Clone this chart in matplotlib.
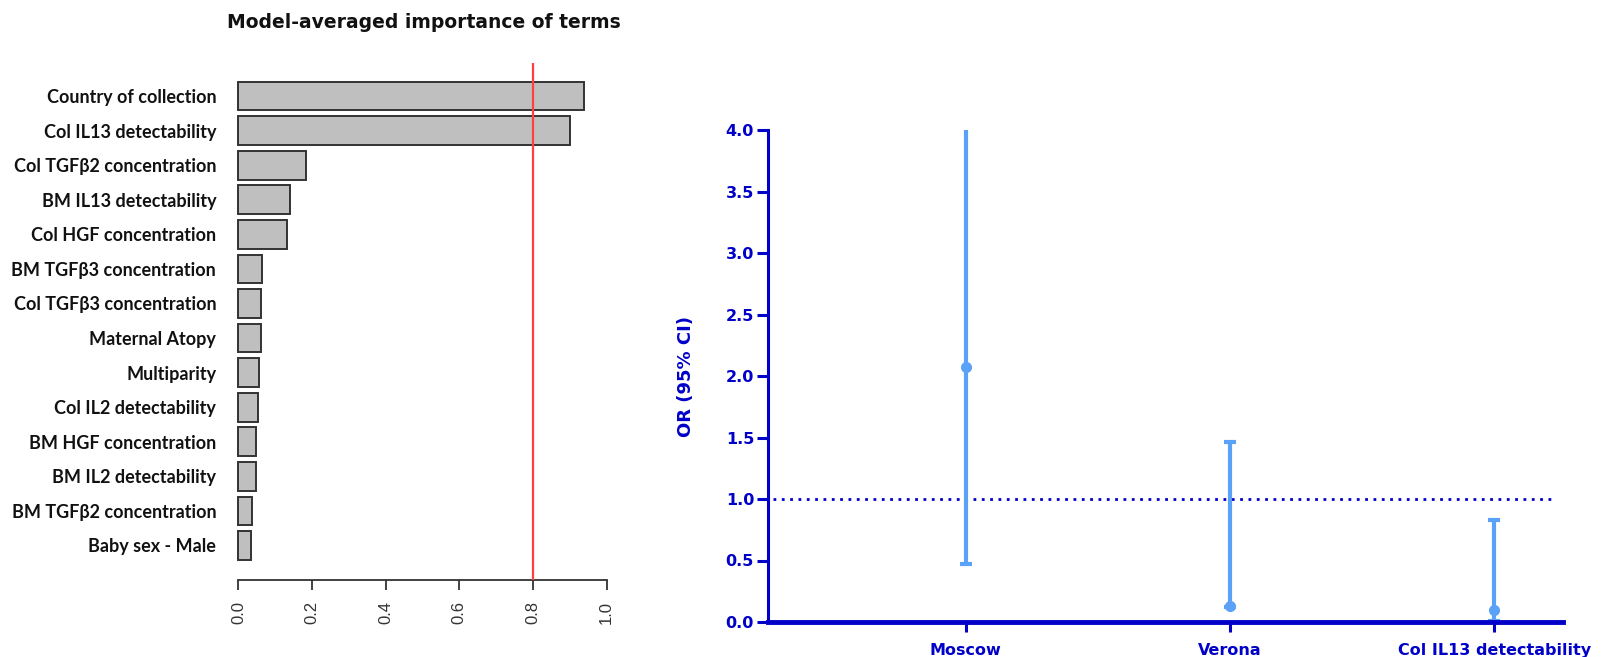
import matplotlib
matplotlib.use("Agg")
import matplotlib.pyplot as plt
import numpy as np

# Левая панель: важность термов (усреднение по моделям)
terms = [
    'Country of collection',
    'Col IL13 detectability',
    'Col TGFβ2 concentration',
    'BM IL13 detectability',
    'Col HGF concentration',
    'BM TGFβ3 concentration',
    'Col TGFβ3 concentration',
    'Maternal Atopy',
    'Multiparity',
    'Col IL2 detectability',
    'BM HGF concentration',
    'BM IL2 detectability',
    'BM TGFβ2 concentration',
    'Baby sex - Male',
]
importance = [0.939, 0.901, 0.183, 0.140, 0.131, 0.065, 0.061,
              0.061, 0.056, 0.052, 0.048, 0.048, 0.038, 0.035]
threshold = 0.8
imp_ticks = [0.0, 0.2, 0.4, 0.6, 0.8, 1.0]

# Правая панель: OR (95% CI)
groups = ['Moscow', 'Verona', 'Col IL13 detectability']
or_point = [2.07, 0.13, 0.10]
or_low = [0.47, 0.12, 0.01]
or_high = [4.0, 1.46, 0.83]
or_ticks = [0.0, 0.5, 1.0, 1.5, 2.0, 2.5, 3.0, 3.5, 4.0]

W, H = 1602, 657
fig = plt.figure(figsize=(W / 100, H / 100), dpi=100)
fig.patch.set_facecolor('white')


def px_axes(x0, y0, x1, y1):
    # координаты в пикселях (от верхнего левого угла)
    return fig.add_axes([x0 / W, (H - y1) / H, (x1 - x0) / W, (y1 - y0) / H])


# ---------- левая панель ----------
ax1 = px_axes(237, 63, 608, 580)
y = np.arange(len(terms))
ax1.barh(y, importance, height=0.83, color='#bfbfbf', edgecolor='#333333',
         linewidth=1.4, zorder=2)
ax1.axvline(threshold, color='#ff4040', linewidth=1.6, zorder=3)
ax1.set_xlim(-0.004, 1.004)
ax1.set_ylim(len(terms) - 1 + 1.0, -0.957)
ax1.set_yticks(y)
ax1.set_yticklabels(terms, fontfamily='Lato', fontweight='bold', fontsize=13,
                    color='#111111')
ax1.tick_params(axis='y', length=0, pad=15)
ax1.set_xticks(imp_ticks)
ax1.set_xticklabels([f'{t:.1f}' for t in imp_ticks], rotation=90,
                    fontfamily='Liberation Sans', fontsize=12, color='#333333')
ax1.tick_params(axis='x', length=7, width=1.3, color='#333333', pad=8)
for s in ['left', 'top', 'right']:
    ax1.spines[s].set_visible(False)
ax1.spines['bottom'].set_bounds(0, 1)
ax1.spines['bottom'].set_linewidth(1.3)
ax1.spines['bottom'].set_color('#333333')
fig.text(424 / W, 1 - 22 / H, 'Model-averaged importance of terms',
         ha='center', va='center', fontfamily='DejaVu Sans',
         fontweight='bold', fontsize=13.5, color='#111111')

# ---------- правая панель ----------
axis_blue = '#0000c8'
bar_blue = '#5aa2f7'
ax2 = px_axes(768, 130, 1563, 622)
x = np.arange(len(groups))
pt = np.array(or_point)
lo = np.array(or_low)
hi = np.array(or_high)
ax2.errorbar(x, pt, yerr=[pt - lo, hi - pt], fmt='o', color=bar_blue,
             ms=7, elinewidth=3, capsize=0, zorder=3, clip_on=True)
# засечки только там, где граница внутри оси
ymax = or_ticks[-1]
for xi, l, h in zip(x, lo, hi):
    for v in (l, h):
        if v < ymax:
            ax2.plot([xi], [v], marker='_', ms=8, mew=3, color=bar_blue,
                     zorder=3, clip_on=False)
ax2.axhline(1.0, xmin=0.006, xmax=0.987, color=axis_blue, linewidth=2,
            linestyle=(0, (1, 2)), zorder=1)
ax2.set_xlim(-0.748, 2.26)
ax2.set_ylim(0, ymax)
ax2.set_yticks(or_ticks)
ax2.set_yticklabels([f'{t:.1f}' for t in or_ticks], fontfamily='DejaVu Sans',
                    fontweight='bold', fontsize=11.5, color=axis_blue)
ax2.set_xticks(x)
ax2.set_xticklabels(groups, fontfamily='DejaVu Sans', fontweight='bold',
                    fontsize=11.5, color=axis_blue)
ax2.tick_params(axis='y', length=8, width=2.2, color=axis_blue, pad=2)
ax2.tick_params(axis='x', length=7, width=2.2, color=axis_blue, pad=8)
ax2.set_ylabel('OR (95% CI)', fontfamily='DejaVu Sans', fontweight='bold',
               fontsize=13, color=axis_blue)
ax2.yaxis.set_label_coords(-0.092, 0.5)
for s in ['top', 'right']:
    ax2.spines[s].set_visible(False)
ax2.spines['left'].set_linewidth(2.2)
ax2.spines['left'].set_color(axis_blue)
ax2.spines['bottom'].set_linewidth(3.5)
ax2.spines['bottom'].set_color(axis_blue)
ax2.spines['bottom'].set_zorder(4)

fig.savefig('out.png', dpi=100, facecolor='white')
